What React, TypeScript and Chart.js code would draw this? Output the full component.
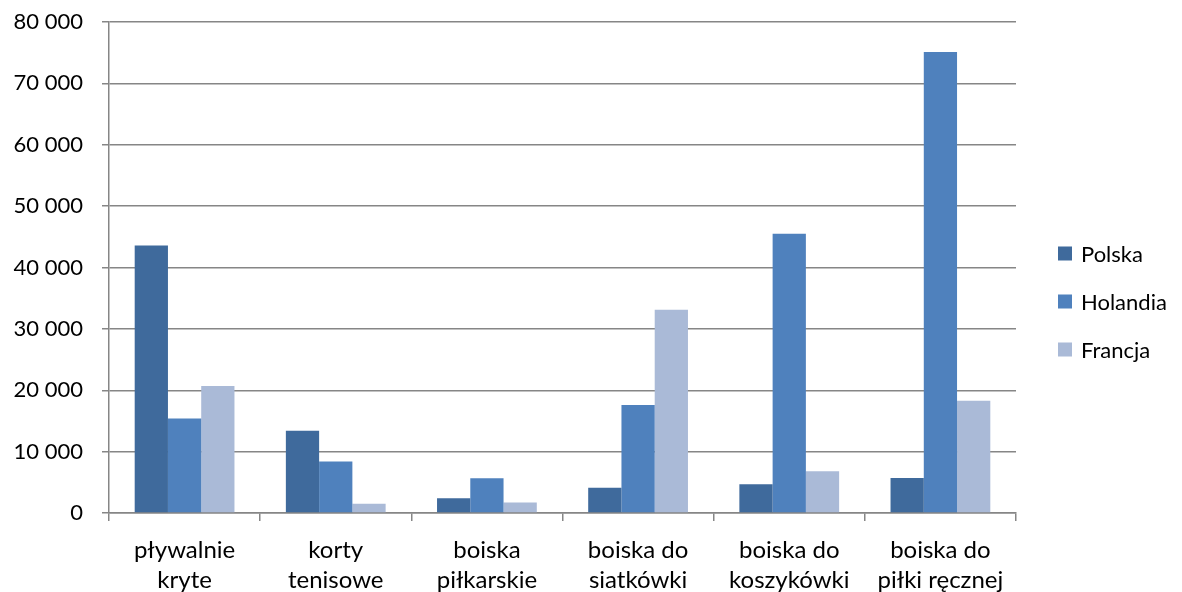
import React, { useEffect, useRef } from "react";
import { Chart, registerables } from "chart.js";

Chart.register(...registerables);

const categories: string[][] = [
  ["pływalnie", "kryte"],
  ["korty", "tenisowe"],
  ["boiska", "piłkarskie"],
  ["boiska do", "siatkówki"],
  ["boiska do", "koszykówki"],
  ["boiska do", "piłki ręcznej"],
];

const seriesNames = ["Polska", "Holandia", "Francja"];
const polska = [43600, 13400, 2400, 4100, 4700, 5700];
const holandia = [15400, 8400, 5650, 17600, 45500, 75100];
const francja = [20700, 1500, 1700, 33100, 6800, 18300];
const seriesColors = ["#3F6A9C", "#4F81BD", "#AABAD7"];

const yMin = 0;
const yMax = 80000;
const yStep = 10000;

const FONT = "Lato, 'Open Sans', sans-serif";
const GRID = "#868686";

function fmt(v: number): string {
  return String(Math.round(v)).replace(/\B(?=(\d{3})+(?!\d))/g, " ");
}

const sideLegend = {
  id: "sideLegend",
  afterDraw(chart: any) {
    const ctx = chart.ctx as CanvasRenderingContext2D;
    const x0 = chart.chartArea.right + 42;
    const box = 14;
    const gap = 48;
    const n = chart.data.datasets.length;
    const cy = (chart.chartArea.top + chart.chartArea.bottom) / 2 + 34;
    const startY = cy - ((n - 1) * gap) / 2;
    ctx.save();
    ctx.font = `22px ${FONT}`;
    ctx.textBaseline = "middle";
    ctx.textAlign = "left";
    chart.data.datasets.forEach((ds: any, i: number) => {
      const y = startY + i * gap;
      ctx.fillStyle = ds.backgroundColor;
      ctx.fillRect(x0, y - box / 2, box, box);
      ctx.fillStyle = "#000";
      ctx.fillText(ds.label, x0 + box + 9, y + 1);
    });
    ctx.restore();
  },
};

export default function App() {
  const ref = useRef<HTMLCanvasElement | null>(null);

  useEffect(() => {
    if (!ref.current) return;
    const seriesData = [polska, holandia, francja];
    const chart = new Chart(ref.current, {
      type: "bar",
      data: {
        labels: categories,
        datasets: seriesNames.map((name, i) => ({
          label: name,
          data: seriesData[i],
          backgroundColor: seriesColors[i],
          borderWidth: 0,
          barPercentage: 1,
          categoryPercentage: 0.66,
        })),
      },
      plugins: [sideLegend],
      options: {
        animation: false,
        responsive: false,
        maintainAspectRatio: false,
        layout: { padding: { left: 0, top: 22, right: 166, bottom: 0 } },
        plugins: {
          tooltip: { enabled: false },
          legend: { display: false },
        },
        scales: {
          x: {
            offset: true,
            afterFit: (s: any) => {
              s.height = 79;
              s.paddingLeft = 0;
              s.paddingRight = 0;
            },
            grid: {
              offset: true,
              drawOnChartArea: false,
              drawTicks: true,
              tickLength: 8,
              color: GRID,
              lineWidth: 1.5,
            },
            border: { color: GRID, width: 1.5 },
            ticks: {
              color: "#000",
              padding: 14,
              maxRotation: 0,
              autoSkip: false,
              font: { family: FONT, size: 24, lineHeight: 1.25 },
            },
          },
          y: {
            min: yMin,
            max: yMax,
            afterFit: (s: any) => {
              s.width = 109;
              s.paddingTop = 0;
              s.paddingBottom = 0;
            },
            grid: {
              color: GRID,
              lineWidth: 1.5,
              tickLength: 7,
            },
            border: { color: GRID, width: 1.5 },
            ticks: {
              stepSize: yStep,
              color: "#000",
              padding: 19,
              font: { family: FONT, size: 22 },
              callback: (v: any) => fmt(Number(v)),
            },
          },
        },
      },
    });
    return () => chart.destroy();
  }, []);

  return (
    <div style={{ position: "absolute", left: 0, top: 0, width: 1182, height: 592, background: "#fff" }}>
      <canvas ref={ref} width={1182} height={592} style={{ width: 1182, height: 592 }} />
    </div>
  );
}
